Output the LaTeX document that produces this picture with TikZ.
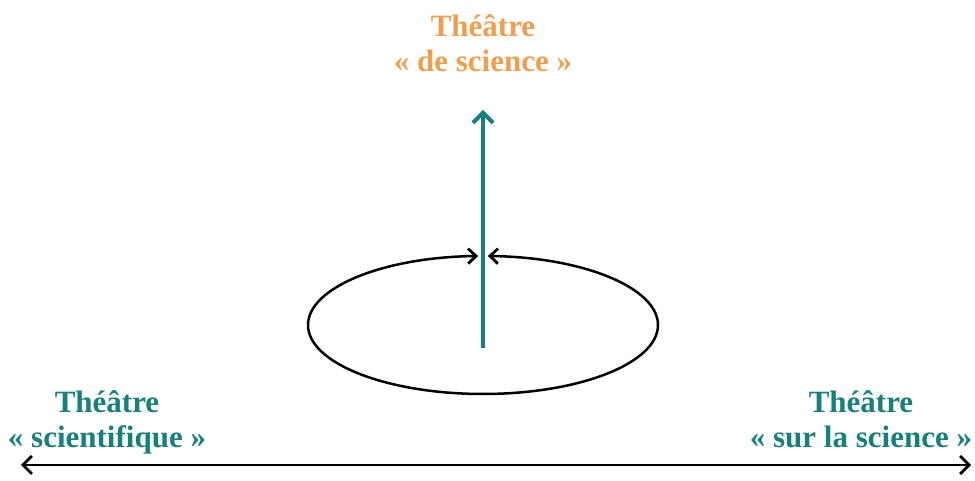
\documentclass[tikz,border=0pt]{standalone}
\usepackage{fontspec}
\setmainfont{Liberation Serif}
\usetikzlibrary{arrows.meta}
\definecolor{tealc}{RGB}{22,128,124}
\definecolor{orangec}{RGB}{240,158,78}
\begin{document}
\begin{tikzpicture}[x=1pt,y=1pt,
  lbl/.style={align=center,inner sep=0pt,anchor=base,font=\fontsize{31}{35}\selectfont\bfseries},
  barb/.style={-{Straight Barb[length=8pt,width=15pt,line width=2.8pt]}}]
\useasboundingbox (0,0) rectangle (975,481);
% labels (anchor at baseline of the last line)
\node[lbl,text=orangec] (top) at (483,409) {Théâtre\\« de science »};
\node[lbl,text=tealc] (left) at (107,33) {Théâtre\\« scientifique »};
\node[lbl,text=tealc] (right) at (861,33) {Théâtre\\« sur la science »};
% ellipse drawn as two arcs meeting at the top
\coordinate (ebot) at (483,87);
\draw[line width=2.5pt,barb] (ebot) arc[start angle=270,end angle=91.6,x radius=175,y radius=69];
\draw[line width=2.5pt,barb] (ebot) arc[start angle=-90,end angle=88.4,x radius=175,y radius=69];
% vertical teal arrow
\coordinate (vb) at (483,133);
\coordinate (vt) at (483,371);
\draw[tealc,line width=4.5pt,-{Straight Barb[length=10pt,width=20pt,line width=4pt]}] (vb) -- (vt);
% bottom double arrow
\coordinate (hl) at (21,16);
\coordinate (hr) at (971,16);
\draw[line width=2.5pt,{Straight Barb[length=9pt,width=18pt,line width=2.8pt]}-{Straight Barb[length=9pt,width=18pt,line width=2.8pt]}] (hl) -- (hr);
\end{tikzpicture}
\end{document}
